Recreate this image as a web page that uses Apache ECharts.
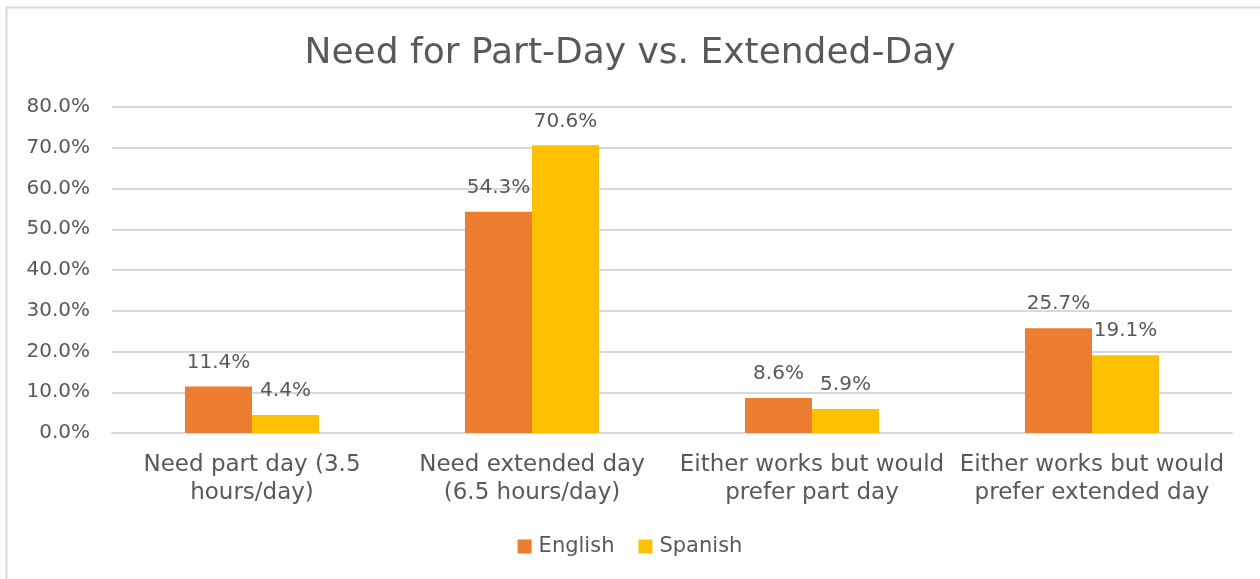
<!DOCTYPE html>
<html><head><meta charset="utf-8">
<script src="https://cdn.jsdelivr.net/npm/echarts@6/dist/echarts.min.js"></script>
<style>html,body{margin:0;padding:0;background:#fff}#c{width:1260px;height:579px}</style>
</head><body><div id="c"></div>
<script>
const categories = ["Need part day (3.5\nhours/day)", "Need extended day\n(6.5 hours/day)", "Either works but would\nprefer part day", "Either works but would\nprefer extended day"];
const english = [11.4, 54.3, 8.6, 25.7];
const spanish = [4.4, 70.6, 5.9, 19.1];
const font = "DejaVu Sans";
const chart = echarts.init(document.getElementById('c'));
const lbl = {show:true, position:'top', distance:14, color:'#595959', fontSize:20, fontFamily:font, formatter: p => p.value.toFixed(1)+'%'};
chart.setOption({
  animation:false,
  textStyle:{fontFamily:font},
  graphic:[{type:'rect', shape:{x:6.5,y:7.5,width:1300,height:1000}, style:{fill:'none', stroke:'#d9d9d9', lineWidth:2}, silent:true}],
  title:{text:'Need for Part-Day vs. Extended-Day', left:'center', top:31, textStyle:{fontFamily:font, fontSize:36, fontWeight:'normal', color:'#595959'}},
  legend:{bottom:17, left:'center', itemWidth:14, itemHeight:14, itemGap:24, icon:'rect', textStyle:{fontFamily:font, fontSize:21, color:'#595959', padding:[0,0,0,2]}, data:['English','Spanish']},
  grid:{left:112, right:28, top:107, bottom:146, containLabel:false},
  xAxis:{type:'category', data:categories, axisTick:{show:false}, axisLine:{lineStyle:{color:'#d9d9d9', width:2}}, axisLabel:{color:'#595959', fontSize:23, fontFamily:font, lineHeight:28, margin:18, interval:0}},
  yAxis:{type:'value', min:0, max:80, interval:10, axisLine:{show:false}, axisTick:{show:false}, splitLine:{lineStyle:{color:'#d9d9d9', width:2}}, axisLabel:{color:'#595959', fontSize:20, fontFamily:font, margin:22, formatter: v => v.toFixed(1)+'%'}},
  series:[
    {name:'English', type:'bar', data:english, itemStyle:{color:'#ED7D31'}, barWidth:67, barGap:'0%', label:lbl},
    {name:'Spanish', type:'bar', data:spanish, itemStyle:{color:'#FFC000'}, barWidth:67, barGap:'0%', label:lbl}
  ]
});
</script></body></html>
